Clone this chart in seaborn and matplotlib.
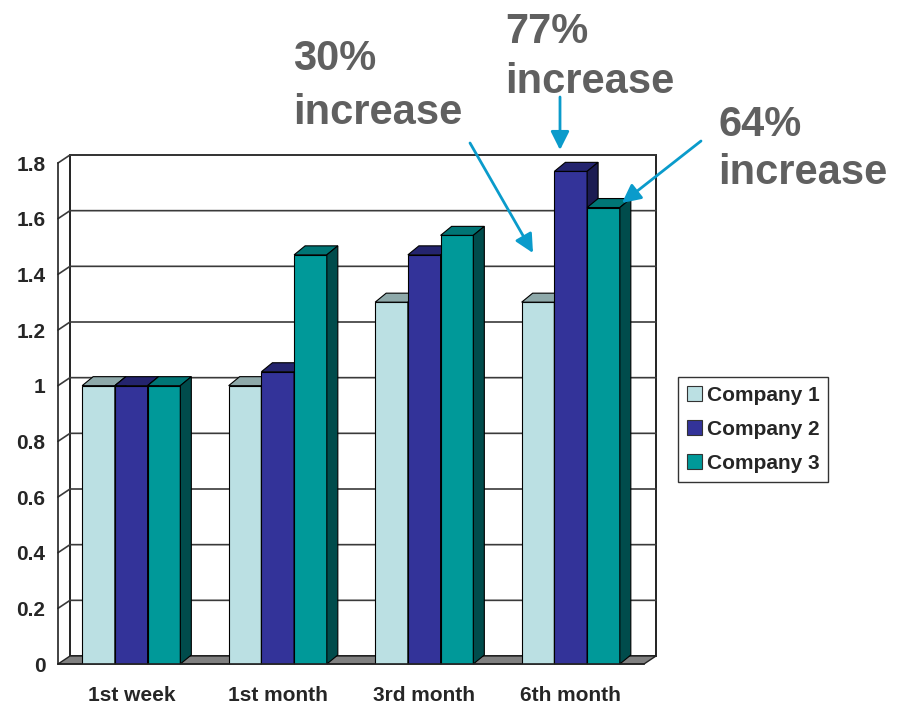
import matplotlib
matplotlib.use("Agg")
import matplotlib.pyplot as plt
import numpy as np
import pandas as pd
import seaborn as sns
from matplotlib.patches import Polygon, Rectangle

# ---- data -------------------------------------------------------------
periods = ["1st week", "1st month", "3rd month", "6th month"]
companies = ["Company 1", "Company 2", "Company 3"]
company1 = [1.0, 1.0, 1.3, 1.3]
company2 = [1.0, 1.05, 1.47, 1.77]
company3 = [1.0, 1.47, 1.54, 1.64]
y_ticks = [0, 0.2, 0.4, 0.6, 0.8, 1.0, 1.2, 1.4, 1.6, 1.8]
y_tick_labels = ["0", "0.2", "0.4", "0.6", "0.8", "1", "1.2", "1.4", "1.6", "1.8"]
callouts = ["30%\nincrease", "77%\nincrease", "64%\nincrease"]

# ---- styles -----------------------------------------------------------
front_colors = ["#BBE0E3", "#333399", "#009999"]
top_colors = ["#8EA9AA", "#24246E", "#007575"]
side_colors = ["#5C7273", "#1C1C52", "#004C4C"]
text_gray = "#606060"
arrow_blue = "#0A9BCB"

sns.set_style("white")
plt.rcParams["font.family"] = ["Liberation Sans", "DejaVu Sans"]
plt.rcParams["font.weight"] = "bold"

df = pd.DataFrame({
    "period": periods * 3,
    "company": [c for c in companies for _ in periods],
    "value": company1 + company2 + company3,
})

W, H = 898, 705
fig = plt.figure(figsize=(W / 100, H / 100), dpi=100)
fig.patch.set_facecolor("white")

# plot area in pixels: front axis x=58, back wall right x=656, floor y=664, wall top y=155
ax = fig.add_axes([58 / W, (H - 664) / H, (656 - 58) / W, (664 - 155) / H])
ax.patch.set_visible(False)

px_x = 146.5           # pixels per category
px_y = 278.33          # pixels per unit value
wall_dx, wall_dy = 12 / px_x, 8 / px_y
bar_dx, bar_dy = 11 / px_x, 9 / px_y
xmin = -0.5
xmax = 3.5 + wall_dx
ymax = 1.8 + wall_dy

sns.barplot(data=df, x="period", y="value", hue="company",
            order=periods, hue_order=companies, palette=front_colors,
            saturation=1, width=0.67, gap=0, edgecolor="black",
            linewidth=0.8, ax=ax)

ax.set_xlim(xmin, xmax)
ax.set_ylim(0, ymax)

# back wall, floor and gridlines
ax.add_patch(Rectangle((xmin + wall_dx, wall_dy), xmax - (xmin + wall_dx), 1.8,
                       facecolor="white", edgecolor="#222222", lw=1.4,
                       zorder=0.3, clip_on=False))
for v in y_ticks[1:]:
    ax.plot([xmin, xmin + wall_dx, xmax], [v, v + wall_dy, v + wall_dy],
            color="#3a3a3a", lw=1.2, zorder=0.4, clip_on=False)
ax.add_patch(Polygon([(xmin, 0), (3.5, 0), (3.5 + wall_dx, wall_dy),
                      (xmin + wall_dx, wall_dy)], closed=True,
                     facecolor="#808080", edgecolor="#222222", lw=1.0,
                     zorder=0.5, clip_on=False))

# 3D faces for each bar (seaborn draws one hue level at a time)
bars = [p for p in ax.patches if isinstance(p, Rectangle) and p.get_height() > 0
        and p.get_width() < 0.5]
order = sorted(range(len(bars)), key=lambda i: bars[i].get_x())
for rank, i in enumerate(order):
    p = bars[i]
    k = i // len(periods)
    x0, w, h = p.get_x(), p.get_width(), p.get_height()
    z = 2 + rank * 0.01
    p.set_zorder(z)
    top = Polygon([(x0, h), (x0 + w, h), (x0 + w + bar_dx, h + bar_dy),
                   (x0 + bar_dx, h + bar_dy)], closed=True,
                  facecolor=top_colors[k], edgecolor="black", lw=0.8,
                  zorder=z, clip_on=False)
    side = Polygon([(x0 + w, 0), (x0 + w + bar_dx, bar_dy),
                    (x0 + w + bar_dx, h + bar_dy), (x0 + w, h)], closed=True,
                   facecolor=side_colors[k], edgecolor="black", lw=0.8,
                   zorder=z, clip_on=False)
    ax.add_patch(top)
    ax.add_patch(side)

# axes
for s in ["top", "right"]:
    ax.spines[s].set_visible(False)
ax.spines["left"].set_bounds(0, 1.8)
ax.spines["bottom"].set_bounds(xmin, 3.5)
for s in ["left", "bottom"]:
    ax.spines[s].set_color("#222222")
    ax.spines[s].set_linewidth(1.2)
    ax.spines[s].set_zorder(5)

ax.set_yticks(y_ticks)
ax.set_yticklabels(y_tick_labels)
ax.tick_params(axis="y", length=6, width=1.1, color="#222222", pad=3,
               labelsize=15)
ax.set_xticks(range(len(periods)))
ax.set_xticklabels(periods)
ax.set_xticks(np.arange(-0.5, 4, 1.0), minor=True)
ax.tick_params(axis="x", which="major", length=0, pad=16, labelsize=15)
ax.tick_params(axis="x", which="minor", length=8, width=1.1, color="#222222")
for lab in ax.get_xticklabels() + ax.get_yticklabels():
    lab.set_fontweight("bold")
ax.set_xlabel("")
ax.set_ylabel("")

# legend
handles, labels = ax.get_legend_handles_labels()
leg = ax.legend(handles, labels, loc="upper left",
                bbox_to_anchor=(678 / W, 1 - 377 / H),
                bbox_transform=fig.transFigure, borderaxespad=0,
                frameon=True, fancybox=False, edgecolor="black",
                prop={"size": 15, "weight": "bold"}, handlelength=0.75,
                handleheight=0.75, handletextpad=0.2, labelspacing=0.72,
                borderpad=0.42)
leg.get_frame().set_linewidth(1.0)
for hnd in leg.legend_handles:
    hnd.set_edgecolor("#333333")
    hnd.set_linewidth(0.8)

# callouts: text (left x, baselines of both lines) and arrows (start, tip)
callout_text_pos = [(293, 70, 124), (505, 43, 93), (718, 136, 184)]
callout_arrows = [((470, 143), (533, 253)), ((560, 97), (560, 150)),
                  ((701, 141), (622, 203))]
for txt, (tx, b1, b2), (start, tip) in zip(callouts, callout_text_pos,
                                           callout_arrows):
    line1, line2 = txt.split("\n")
    fig.text(tx / W, 1 - b1 / H, line1, fontsize=30, fontweight="bold",
             color=text_gray, ha="left", va="baseline")
    fig.text(tx / W, 1 - b2 / H, line2, fontsize=30, fontweight="bold",
             color=text_gray, ha="left", va="baseline")
    ax.annotate("", xy=(tip[0], H - tip[1]), xytext=(start[0], H - start[1]),
                xycoords="figure pixels", textcoords="figure pixels",
                arrowprops=dict(arrowstyle="-|>", color=arrow_blue, lw=2,
                                mutation_scale=28, shrinkA=0, shrinkB=0),
                annotation_clip=False)

fig.savefig("out.png", dpi=100, facecolor="white")
